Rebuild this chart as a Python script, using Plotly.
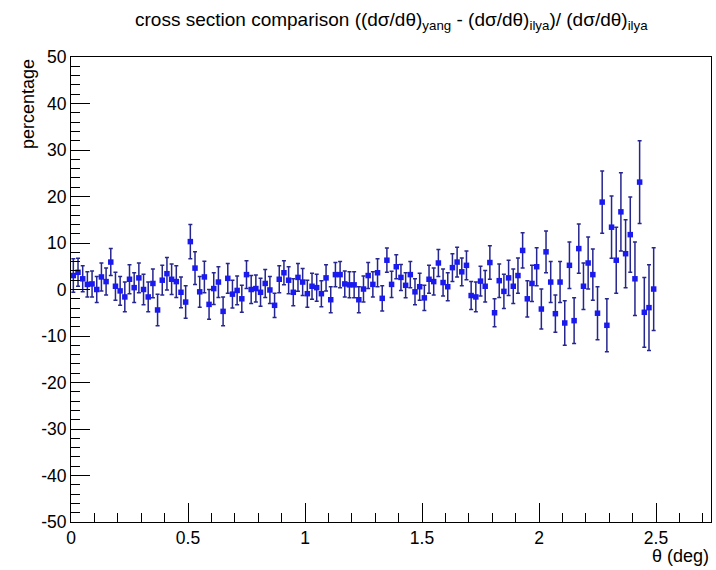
import plotly.graph_objects as go

# Bin centres in theta (deg): 125 bins of width 0.02 from 0 to 2.5
bin_width = 0.02
n_bins = 125
theta = [bin_width * (i + 0.5) for i in range(n_bins)]

# Relative difference of the two cross sections, in percent
percent_diff = [
    3.0, 3.7, 2.3, 1.1, 1.2, 0.0, 2.7, 1.7, 5.9, 0.7,
    -0.3, -1.6, 2.2, 0.4, 2.5, 0.0, -1.6, 1.3, -4.4, 2.0,
    3.4, 2.2, 1.7, -0.6, -2.7, 10.3, 4.6, -0.5, 2.7, -3.2,
    0.2, 1.6, -4.7, 2.4, -1.0, -0.2, -2.0, 3.2, 0.0, 0.2,
    -0.6, 1.3, -0.1, -3.4, 2.2, 3.6, 2.0, -0.6, 2.6, 1.6,
    -0.9, 0.7, 0.4, -0.9, 2.5, -2.2, 3.2, 3.2, 1.2, 1.0,
    1.0, -2.2, 0.1, 3.0, 1.1, 3.6, -1.9, 6.3, 1.1, 4.9,
    2.6, 0.9, 3.2, -0.5, 0.6, -1.8, 2.2, 1.7, 5.7, 1.5,
    0.6, 4.7, 5.9, 3.8, 5.2, -1.3, -1.6, 1.8, 0.7, 5.8,
    -5.0, 1.9, -0.4, 2.5, 0.7, 3.0, 8.4, -2.0, 1.3, 4.9,
    -4.2, 8.1, 1.6, -5.2, 1.6, -7.2, 5.2, -6.7, 8.8, 0.7,
    5.7, 3.2, -5.1, 18.8, -7.7, 13.4, 6.3, 16.7, 7.7, 11.8,
    2.3, 23.1, -4.9, -3.9, 0.1,
]

# Statistical uncertainty on each bin, in percent
percent_err = [
    3.6, 3.0, 2.8, 2.7, 2.8, 2.8, 3.0, 2.9, 2.9, 3.0,
    3.1, 3.2, 3.1, 3.2, 3.2, 3.3, 3.2, 3.1, 3.4, 3.2,
    3.5, 3.3, 3.4, 3.3, 3.5, 3.7, 3.5, 3.3, 3.4, 3.2,
    3.4, 3.3, 3.1, 3.2, 3.0, 3.1, 2.9, 3.0, 3.0, 2.9,
    3.0, 3.0, 2.9, 2.6, 2.9, 2.6, 2.9, 2.9, 3.0, 2.9,
    2.9, 2.8, 2.9, 2.8, 2.8, 2.8, 2.6, 2.8, 2.8, 2.8,
    2.8, 2.8, 2.8, 2.8, 2.7, 3.0, 2.7, 2.6, 2.8, 2.6,
    2.8, 2.7, 2.8, 2.8, 2.9, 2.7, 3.0, 2.9, 2.9, 2.9,
    3.0, 3.0, 3.2, 3.0, 3.1, 3.0, 3.2, 3.2, 3.4, 3.6,
    3.0, 3.6, 3.7, 3.8, 3.7, 3.8, 3.8, 3.9, 3.9, 4.1,
    4.3, 4.5, 4.4, 4.0, 4.4, 4.8, 5.0, 4.9, 5.3, 5.0,
    5.6, 5.5, 5.7, 6.7, 5.7, 6.7, 7.1, 8.4, 7.3, 8.1,
    7.9, 8.9, 7.5, 9.2, 8.9,
]

# Axis ticks and their labels (plain hyphen for negatives)
x_ticks = [0, 0.5, 1, 1.5, 2, 2.5]
x_tick_labels = ["0", "0.5", "1", "1.5", "2", "2.5"]
y_ticks = [-50, -40, -30, -20, -10, 0, 10, 20, 30, 40, 50]
y_tick_labels = ["-50", "-40", "-30", "-20", "-10", "0", "10", "20", "30", "40", "50"]

x_range = [0, 2.735]
y_range = [-50, 50]

FONT = "Liberation Sans, Arial, Helvetica, sans-serif"

fig = go.Figure()
fig.add_trace(go.Scatter(
    x=theta,
    y=percent_diff,
    mode="markers",
    marker=dict(symbol="square", size=5.5, color="#1a1af0"),
    error_y=dict(type="data", array=percent_err, visible=True,
                 color="#26268f", thickness=1.5, width=2),
    showlegend=False,
))

axis_common = dict(
    showgrid=False,
    zeroline=False,
    showline=True,
    linecolor="black",
    linewidth=1,
    mirror=True,
    ticks="inside",
    ticklen=19,
    tickwidth=1,
    tickcolor="black",
    tickfont=dict(family=FONT, size=17.5, color="black"),
)

fig.update_xaxes(
    range=x_range,
    tickmode="array",
    tickvals=x_ticks,
    ticktext=x_tick_labels,
    minor=dict(ticks="inside", ticklen=9, tick0=0, dtick=0.1,
               tickcolor="black", showgrid=False),
    **axis_common,
)
fig.update_yaxes(
    range=y_range,
    tickmode="array",
    tickvals=y_ticks,
    ticktext=y_tick_labels,
    minor=dict(ticks="inside", ticklen=9, tick0=-50, dtick=2,
               tickcolor="black", showgrid=False),
    **axis_common,
)

fig.add_annotation(
    text="cross section comparison ((dσ/dθ)<sub>yang</sub> - (dσ/dθ)<sub>ilya</sub>)/ (dσ/dθ)<sub>ilya</sub>",
    xref="paper", yref="paper", x=0.5, y=1, yshift=22,
    xanchor="center", yanchor="bottom", showarrow=False,
    font=dict(family=FONT, size=19, color="black"),
)
fig.add_annotation(
    text="percentage",
    xref="paper", yref="paper", x=0, y=1, xshift=-43,
    xanchor="center", yanchor="top", textangle=-90, showarrow=False,
    font=dict(family=FONT, size=18, color="black"),
)
fig.add_annotation(
    text="θ (deg)",
    xref="paper", yref="paper", x=1, y=0, yshift=-22,
    xanchor="right", yanchor="top", showarrow=False,
    font=dict(family=FONT, size=18, color="black"),
)

fig.update_layout(
    width=716,
    height=570,
    margin=dict(l=71, r=5, t=57, b=48),
    paper_bgcolor="white",
    plot_bgcolor="white",
)

fig.write_html("out.html")
